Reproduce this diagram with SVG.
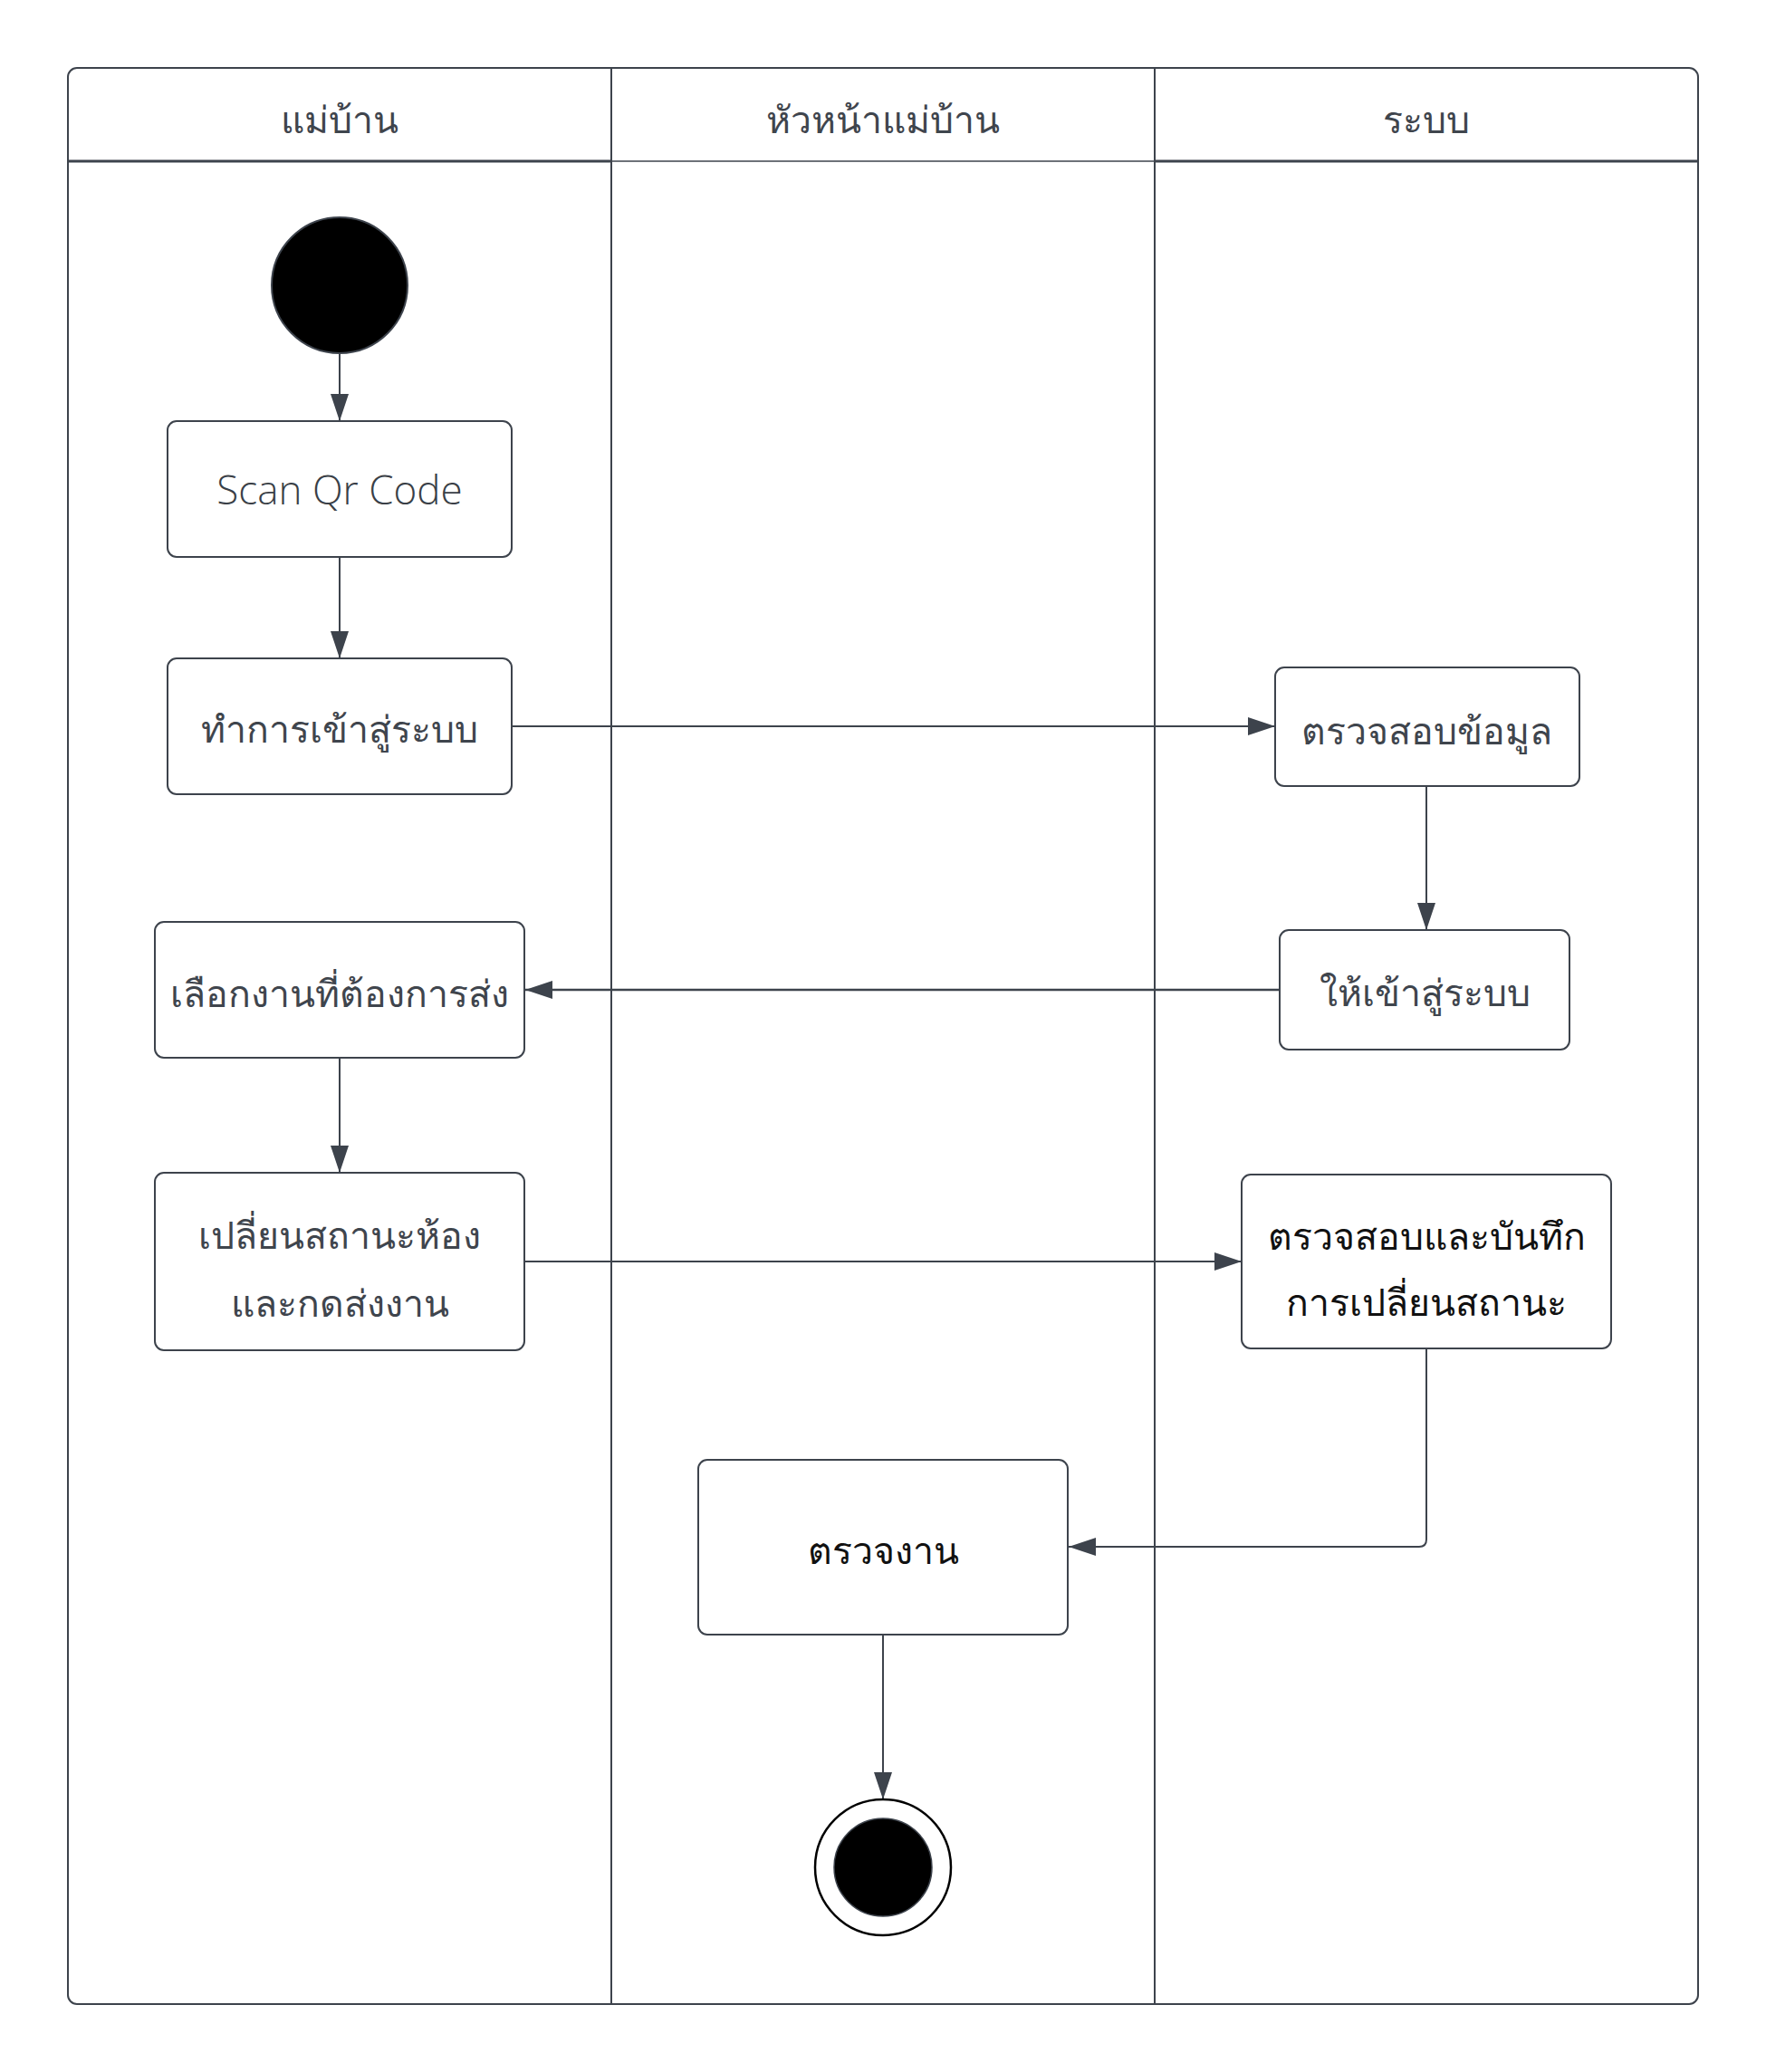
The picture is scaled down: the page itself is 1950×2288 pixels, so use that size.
<svg xmlns="http://www.w3.org/2000/svg" width="1950" height="2288" viewBox="0 0 1950 2288">
<style>
  .frame{fill:none;stroke:#3d434c;stroke-width:2}
  .box{fill:#ffffff;stroke:#3d434c;stroke-width:2}
  .conn{fill:none;stroke:#3d434c;stroke-width:2}
  .t{font-family:"Open Sans","Noto Sans","Liberation Sans",sans-serif;font-size:41px;fill:#3f454d;text-anchor:middle;font-weight:300}
  .te{font-family:"Open Sans","Noto Sans","Liberation Sans",sans-serif;font-size:44px;fill:#3a3f47;text-anchor:middle;font-weight:300}
  .td{font-family:"Open Sans","Noto Sans","Liberation Sans",sans-serif;font-size:41px;fill:#111111;text-anchor:middle}
</style>
<defs>
  <marker id="arrow" markerUnits="userSpaceOnUse" markerWidth="30" markerHeight="20" refX="30" refY="10" orient="auto">
    <path d="M0,0 L30,10 L0,20 z" fill="#3d434c"/>
  </marker>
</defs>
<rect width="1950" height="2288" fill="#ffffff"/>
<g id="swimlanes">
  <rect class="frame" x="75" y="75" width="1800" height="2138" rx="10"/>
  <line class="frame" x1="75" y1="178" x2="675" y2="178" style="stroke-width:3"/>
  <line class="frame" x1="675" y1="178" x2="1275" y2="178" style="stroke-width:1.5"/>
  <line class="frame" x1="1275" y1="178" x2="1875" y2="178" style="stroke-width:3"/>
  <line class="frame" x1="675" y1="75" x2="675" y2="2213"/>
  <line class="frame" x1="1275" y1="75" x2="1275" y2="2213"/>
  <text class="t" x="375" y="147">แม่บ้าน</text>
  <text class="t" x="975" y="147">หัวหน้าแม่บ้าน</text>
  <text class="t" x="1575" y="147">ระบบ</text>
</g>
<g id="connectors">
  <line class="conn" x1="375" y1="391" x2="375" y2="465" marker-end="url(#arrow)"/>
  <line class="conn" x1="375" y1="615" x2="375" y2="727" marker-end="url(#arrow)"/>
  <line class="conn" x1="565" y1="802" x2="1408" y2="802" marker-end="url(#arrow)"/>
  <line class="conn" x1="1575" y1="868" x2="1575" y2="1027" marker-end="url(#arrow)"/>
  <line class="conn" x1="1413" y1="1093" x2="580" y2="1093" style="stroke-width:2.5" marker-end="url(#arrow)"/>
  <line class="conn" x1="375" y1="1168" x2="375" y2="1295" marker-end="url(#arrow)"/>
  <line class="conn" x1="579" y1="1393" x2="1371" y2="1393" marker-end="url(#arrow)"/>
  <path class="conn" d="M1575,1489 L1575,1700 Q1575,1708 1567,1708 L1180,1708" marker-end="url(#arrow)"/>
  <line class="conn" x1="975" y1="1805" x2="975" y2="1987" marker-end="url(#arrow)"/>
</g>
<g id="start">
  <circle cx="375" cy="315" r="75" fill="#000000" stroke="#3d434c" stroke-width="2"/>
</g>
<g id="scan">
  <rect class="box" x="185" y="465" width="380" height="150" rx="10"/>
  <text class="te" x="375" y="557">Scan Qr Code</text>
</g>
<g id="login">
  <rect class="box" x="185" y="727" width="380" height="150" rx="10"/>
  <text class="t" x="375" y="820">ทำการเข้าสู่ระบบ</text>
</g>
<g id="verify">
  <rect class="box" x="1408" y="737" width="336" height="131" rx="10"/>
  <text class="t" x="1575" y="822">ตรวจสอบข้อมูล</text>
</g>
<g id="grant">
  <rect class="box" x="1413" y="1027" width="320" height="132" rx="10"/>
  <text class="t" x="1573" y="1111">ให้เข้าสู่ระบบ</text>
</g>
<g id="select">
  <rect class="box" x="171" y="1018" width="408" height="150" rx="10"/>
  <text class="t" x="375" y="1112">เลือกงานที่ต้องการส่ง</text>
</g>
<g id="change">
  <rect class="box" x="171" y="1295" width="408" height="196" rx="10"/>
  <text class="t" x="375" y="1379">เปลี่ยนสถานะห้อง</text>
  <text class="t" x="375" y="1454">และกดส่งงาน</text>
</g>
<g id="record">
  <rect class="box" x="1371" y="1297" width="408" height="192" rx="10"/>
  <text class="td" x="1575" y="1380">ตรวจสอบและบันทึก</text>
  <text class="td" x="1575" y="1453">การเปลี่ยนสถานะ</text>
</g>
<g id="inspect">
  <rect class="box" x="771" y="1612" width="408" height="193" rx="10"/>
  <text class="td" x="975" y="1727">ตรวจงาน</text>
</g>
<g id="end">
  <circle cx="975" cy="2062" r="75" fill="#ffffff" stroke="#000000" stroke-width="2.5"/>
  <circle cx="975" cy="2062" r="54" fill="#000000" stroke="#3d434c" stroke-width="1.5"/>
</g>
</svg>
